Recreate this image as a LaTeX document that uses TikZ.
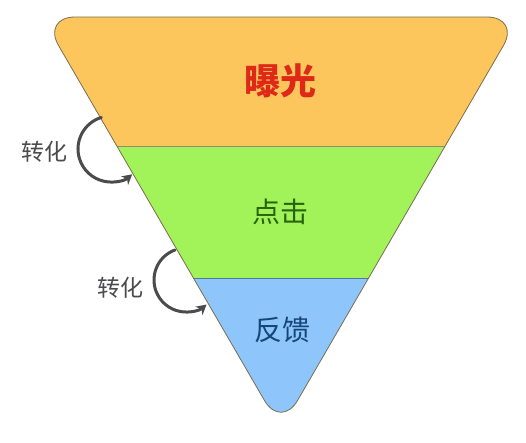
\documentclass[tikz,border=0pt]{standalone}
\usepackage{fontspec}
\newfontfamily\cjk{Noto Sans CJK SC}
\usetikzlibrary{arrows.meta,calc}
\definecolor{bandorange}{RGB}{252,198,92}
\definecolor{bandgreen}{RGB}{162,242,90}
\definecolor{bandblue}{RGB}{142,197,250}
\definecolor{edgecol}{RGB}{120,110,80}
\definecolor{txtred}{RGB}{222,40,24}
\definecolor{txtgreen}{RGB}{40,100,12}
\definecolor{txtblue}{RGB}{22,70,120}
\definecolor{arrowgray}{RGB}{75,75,78}
\tikzset{
  funnel/.style={rounded corners=33pt},
  bandlabel/.style={font=\cjk\fontsize{28}{30}\selectfont, inner sep=0pt},
  convlabel/.style={font=\cjk\fontsize{23}{25}\selectfont, text=arrowgray, inner sep=0pt},
  convarrow/.style={draw=arrowgray, line width=3pt, line cap=round, -{Stealth[length=10pt,width=11pt]}}
}
\begin{document}
\begin{tikzpicture}[x=1pt,y=-1pt]
\useasboundingbox (0,0) rectangle (526,442);
\fill[white] (0,0) rectangle (526,442);
\coordinate (tl) at (42,17);
\coordinate (tr) at (520,17);
\coordinate (ap) at (281,429);
\begin{scope}
  \clip[funnel] (tl) -- (tr) -- (ap) -- cycle;
  \fill[bandorange] (0,0) rectangle (526,146);
  \fill[bandgreen] (0,146) rectangle (526,278);
  \fill[bandblue] (0,278) rectangle (526,442);
  \draw[edgecol!80, line width=0.7pt] (0,146) -- (526,146);
  \draw[bandblue!60!black, line width=0.6pt] (0,278) -- (526,278);
\end{scope}
\draw[funnel, edgecol, line width=0.8pt] (tl) -- (tr) -- (ap) -- cycle;
\node[bandlabel, text=txtred, font=\cjk\bfseries\fontsize{36}{38}\selectfont] (expo) at (280,81) {曝光};
\node[bandlabel, text=txtgreen] (click) at (280,212) {点击};
\node[bandlabel, text=txtblue] (feed) at (282,330) {反馈};
\node[convlabel] (conv1) at (44,152) {转化};
\node[convlabel] (conv2) at (120,288) {转化};
\coordinate (c1) at ($(111,149)+(253:33)$);
\coordinate (c2) at ($(186,280)+(250:32)$);
\draw[convarrow] (c1) arc[start angle=253, end angle=50, radius=33];
\draw[convarrow] (c2) arc[start angle=250, end angle=50, radius=32];
\end{tikzpicture}
\end{document}
